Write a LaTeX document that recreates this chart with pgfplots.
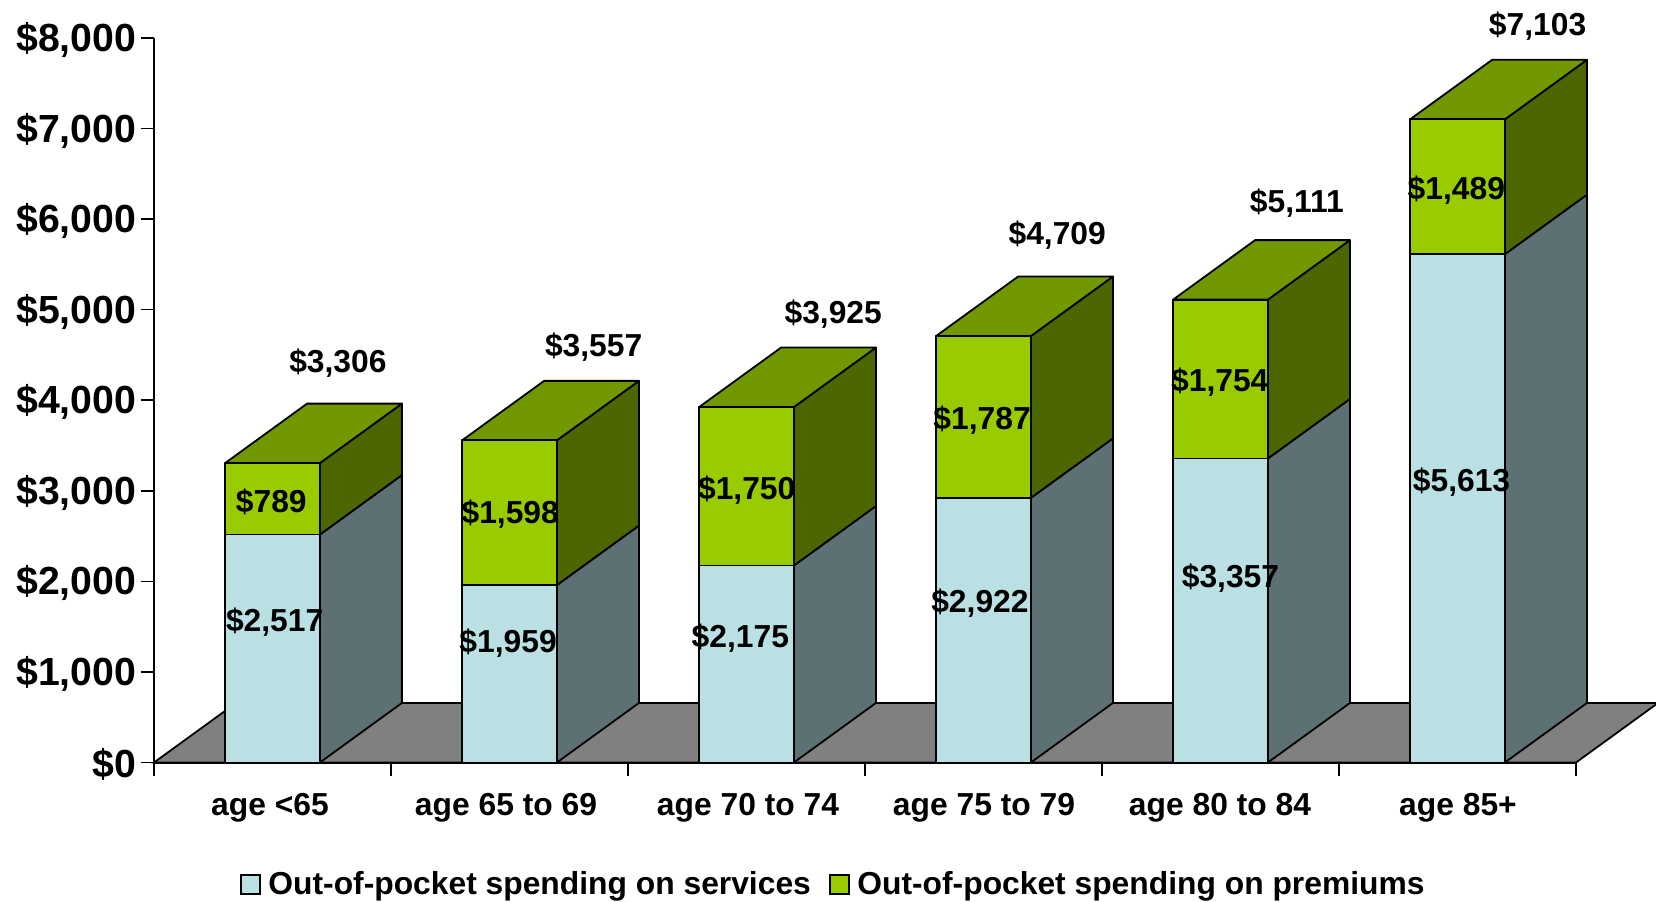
\documentclass[border=0pt]{standalone}
\usepackage{fontspec}
\setmainfont{Liberation Sans}
\usepackage{pgfplots}
\pgfplotsset{compat=1.18}
\definecolor{svcfront}{HTML}{BBE0E3}
\definecolor{svcside}{HTML}{5D7074}
\definecolor{premfront}{HTML}{99CC00}
\definecolor{premside}{HTML}{4C6600}
\definecolor{premtop}{HTML}{729800}
\definecolor{floorc}{HTML}{808080}
\newcommand{\lblfont}{\bfseries\fontsize{15.9pt}{18pt}\selectfont}
\newcommand{\dpx}{0.346}
\newcommand{\dpy}{657}
% one 3-D bar: position, services, premiums
\newcommand{\onebar}[3]{%
  \pgfmathsetmacro{\xa}{#1+0.30}%
  \pgfmathsetmacro{\xb}{#1+0.70}%
  \pgfmathsetmacro{\xc}{#1+0.70+\dpx}%
  \pgfmathsetmacro{\xd}{#1+0.30+\dpx}%
  \pgfmathsetmacro{\ya}{#2}%
  \pgfmathsetmacro{\yb}{#2+#3}%
  \pgfmathsetmacro{\yad}{#2+\dpy}%
  \pgfmathsetmacro{\ybd}{#2+#3+\dpy}%
  \addplot[forget plot,fill=svcside,draw=black,line width=0.9pt,line join=round] coordinates {(\xb,0) (\xc,\dpy) (\xc,\yad) (\xb,\ya)} --cycle;
  \addplot[forget plot,fill=premside,draw=black,line width=0.9pt,line join=round] coordinates {(\xb,\ya) (\xc,\yad) (\xc,\ybd) (\xb,\yb)} --cycle;
  \addplot[forget plot,fill=premtop,draw=black,line width=0.9pt,line join=round] coordinates {(\xa,\yb) (\xb,\yb) (\xc,\ybd) (\xd,\ybd)} --cycle;
  \addplot[forget plot,fill=svcfront,draw=black,line width=0.9pt,line join=round] coordinates {(\xa,0) (\xb,0) (\xb,\ya) (\xa,\ya)} --cycle;
  \addplot[forget plot,fill=premfront,draw=black,line width=0.9pt,line join=round] coordinates {(\xa,\ya) (\xb,\ya) (\xb,\yb) (\xa,\yb)} --cycle;
}
\begin{document}
\begin{tikzpicture}[x=1pt,y=1pt]
\useasboundingbox (0,0) rectangle (828,450.5);
\begin{axis}[
  at={(77pt,69.25pt)},anchor=south west,
  scale only axis,width=711pt,height=362.25pt,
  xmin=0,xmax=6,ymin=0,ymax=8000,
  clip=false,
  axis x line*=bottom,axis y line*=left,
  axis line style={-,line width=1pt},
  tick style={black,line width=0.8pt},
  tick align=outside,major tick length=6.5pt,
  xtick={0,1,2,3,4,5,6},
  x tick label as interval,
  xticklabels={\hspace*{-2pt}age <65,\hspace*{-3pt}age 65 to 69,\hspace*{2pt}age 70 to 74,\hspace*{1pt}age 75 to 79,age 80 to 84,\hspace*{1pt}age 85+},
  xticklabel style={font=\lblfont,xshift=-0.25pt,yshift=-5.5pt,text height=11pt,text depth=3pt},
  ytick={0,1000,2000,3000,4000,5000,6000,7000,8000},
  /pgf/number format/assume math mode=true,
  /pgf/number format/1000 sep={,},
  /pgf/number format/fixed,
  yticklabel={\$\pgfmathprintnumber{\tick}},
  scaled y ticks=false,
  yticklabel style={font=\bfseries\fontsize{19.6pt}{22pt}\selectfont,xshift=1.1pt,yshift=-1pt},
  legend columns=2,
  legend cell align=left,
  legend style={at={(0.0605,-0.1687)},anchor=west,draw=none,fill=none,inner sep=0pt,font=\lblfont,
    /tikz/every even column/.append style={column sep=9.25pt},
    /tikz/every odd column/.append style={column sep=3.7pt},
    /tikz/nodes={inner sep=0pt}},
]
\addlegendimage{area legend,legend image code/.code={\draw[fill=svcfront,draw=black,line width=0.8pt] (0pt,-4.75pt) rectangle (9.5pt,4.75pt);}}
\addlegendentry{Out-of-pocket spending on services}
\addlegendimage{area legend,legend image code/.code={\draw[fill=premfront,draw=black,line width=0.8pt] (0pt,-4.75pt) rectangle (9.5pt,4.75pt);}}
\addlegendentry{Out-of-pocket spending on premiums}
% floor
\addplot[forget plot,fill=floorc,draw=black,line width=0.9pt] coordinates {(0,0) (6,0) (6.346,657) (0.346,657)} --cycle;
\onebar{0}{2517}{789}
\onebar{1}{1959}{1598}
\onebar{2}{2175}{1750}
\onebar{3}{2922}{1787}
\onebar{4}{3357}{1754}
\onebar{5}{5613}{1489}
% value labels
\addplot[forget plot,only marks,mark=none,
  point meta=explicit symbolic,
  nodes near coords,
  every node near coord/.style={anchor=center,inner sep=0pt,font=\lblfont,text=black,yshift=-1pt},
] table[meta=lab] {
x y lab
0.495 2904 \$789
1.503 2764 \$1,598
2.501 3032 \$1,750
3.494 3802 \$1,787
4.497 4222 \$1,754
5.495 6344 \$1,489
0.509 1575 \$2,517
1.494 1341 \$1,959
2.474 1399 \$2,175
3.485 1784 \$2,922
4.542 2053 \$3,357
5.517 3114 \$5,613
0.776 4431 \$3,306
1.855 4607 \$3,557
2.866 4968 \$3,925
3.811 5843 \$4,709
4.822 6193 \$5,111
5.838 8151 \$7,103
};
\end{axis}
\end{tikzpicture}
\end{document}
